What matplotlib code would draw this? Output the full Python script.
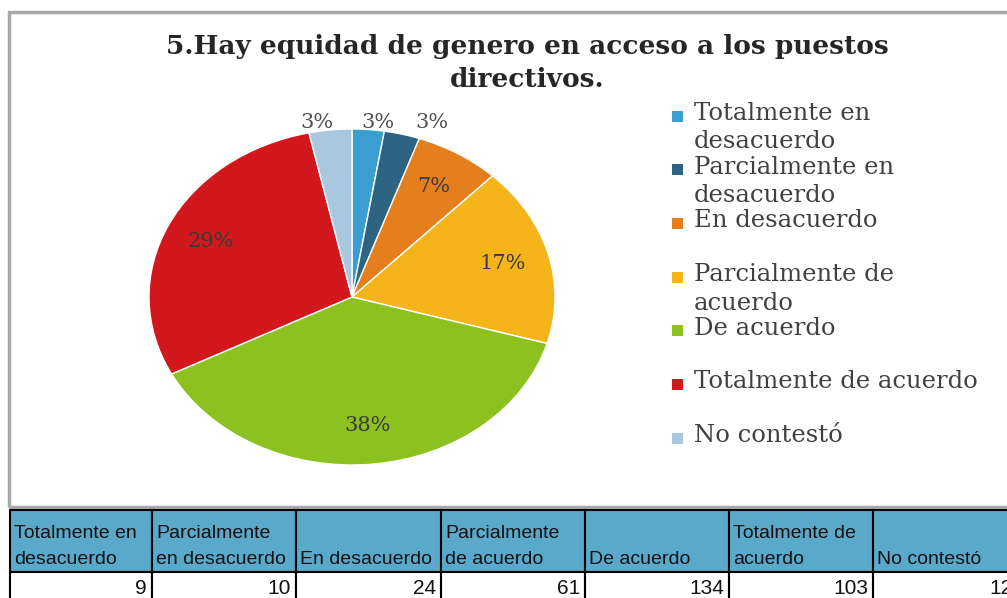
import math
import matplotlib.pyplot as plt
from matplotlib.patches import Rectangle

# datos
categorias = ['Totalmente en desacuerdo', 'Parcialmente en desacuerdo', 'En desacuerdo',
              'Parcialmente de acuerdo', 'De acuerdo', 'Totalmente de acuerdo', 'No contestó']
leyenda = ['Totalmente en\ndesacuerdo', 'Parcialmente en\ndesacuerdo', 'En desacuerdo',
           'Parcialmente de\nacuerdo', 'De acuerdo', 'Totalmente de acuerdo', 'No contestó']
cabecera = ['Totalmente en\ndesacuerdo', 'Parcialmente\nen desacuerdo', 'En desacuerdo',
            'Parcialmente\nde acuerdo', 'De acuerdo', 'Totalmente de\nacuerdo', 'No contestó']
respuestas = [9, 10, 24, 61, 134, 103, 12]
colores = ['#3A9FD0', '#2C6482', '#E57E1C', '#F4B41A', '#8CC11F', '#D2181C', '#A9C7DF']
titulo = '5.Hay equidad de genero en acceso a los puestos\ndirectivos.'

W, H = 1007, 598
fig = plt.figure(figsize=(W / 100, H / 100), dpi=100)


def px(x, y):
    # pixeles (origen arriba a la izquierda) -> fraccion de figura
    return x / W, 1 - y / H


# marco del grafico
fig.patches.append(Rectangle(px(9, 507), (1012 - 9) / W, (507 - 12) / H, transform=fig.transFigure,
                             fill=False, ec='#A9A9A9', lw=2.5))

fig.text(*px(527, 34), titulo, ha='center', va='top', family='DejaVu Serif', weight='bold',
         size=19, color='#262626', linespacing=1.4)

# pastel (eliptico)
cx, cy, rx, ry = 352, 297, 203, 168
l, b = px(cx - 1.1 * rx, cy + 1.1 * ry)
ax = fig.add_axes([l, b, 2.2 * rx / W, 2.2 * ry / H])
wedges, texts, autotexts = ax.pie(respuestas, colors=colores, startangle=90, counterclock=False,
                                  autopct=lambda p: f'{p:.0f}%', pctdistance=0.77,
                                  wedgeprops=dict(edgecolor='white', linewidth=1),
                                  textprops=dict(family='DejaVu Serif', size=15, color='#3a3a3a'))
for w, t, v in zip(wedges, autotexts, respuestas):
    if v / sum(respuestas) < 0.05:
        ang = math.radians((w.theta1 + w.theta2) / 2)
        t.set_position((1.6 * math.cos(ang), 1.04))
        t.set_color('#505050')
ax.set_aspect('auto')
ax.set_xlim(-1.1, 1.1)
ax.set_ylim(-1.1, 1.1)

# leyenda
for i, (lab, c) in enumerate(zip(leyenda, colores)):
    yc = 116 + 53.7 * i
    fig.patches.append(Rectangle(px(672, yc + 5.5), 11 / W, 11 / H, transform=fig.transFigure,
                                 fc=c, ec='none'))
    fig.text(*px(694, yc - 14), lab, ha='left', va='top', family='DejaVu Serif', size=17.5,
             color='#404040', linespacing=1.3)

# tabla
anchos = [142, 144, 145, 144, 144, 144, 144]
x0, y_top, y_mid, y_bot = 10, 510, 572, 604
tfont = ['Liberation Sans Narrow', 'Liberation Sans']
x = x0
for j, (cab, v) in enumerate(zip(cabecera, respuestas)):
    fig.patches.append(Rectangle(px(x, y_mid), anchos[j] / W, (y_mid - y_top) / H,
                                 transform=fig.transFigure, fc='#5BA9CA', ec='black', lw=1.5))
    fig.patches.append(Rectangle(px(x, y_bot), anchos[j] / W, (y_bot - y_mid) / H,
                                 transform=fig.transFigure, fc='white', ec='black', lw=1.5))
    fig.text(*px(x + 4, y_mid - 4), cab, ha='left', va='bottom', family=tfont, size=14,
             color='#111111', linespacing=1.7)
    fig.text(*px(x + anchos[j] - 5, 588), str(v), ha='right', va='center', family=tfont,
             size=15, color='#111111')
    x += anchos[j]

fig.savefig('out.png', dpi=100)
